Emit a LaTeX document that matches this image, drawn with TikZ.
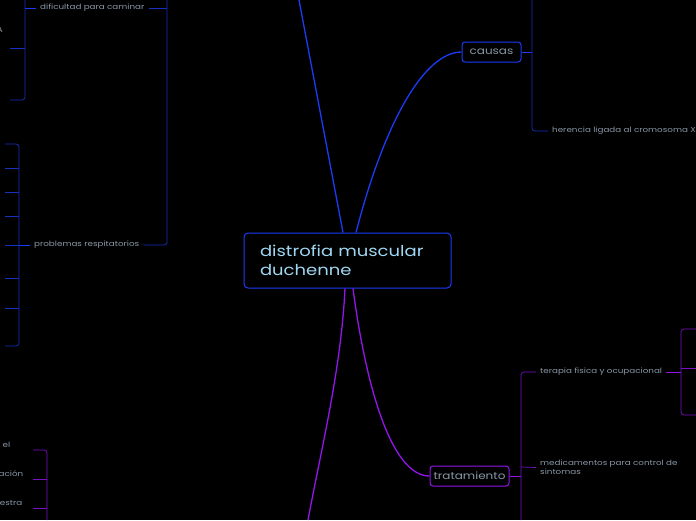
\documentclass[tikz,border=0pt]{standalone}
\usepackage{fontspec}
\setmainfont[FakeStretch=1.2]{Poppins}
\usetikzlibrary{calc}
\definecolor{blu}{HTML}{1A3CF5}
\definecolor{dblu}{HTML}{1530C0}
\definecolor{purp}{HTML}{9414EC}
\definecolor{dpurp}{HTML}{7A10C4}
\definecolor{txt}{HTML}{8A98A6}
\definecolor{ctxt}{HTML}{A0D8F2}

\begin{document}
\begin{tikzpicture}[x=1pt,y=-1pt,
  topic/.style={rounded corners=3pt,line width=1pt,inner sep=0pt,minimum height=20pt,text=txt,font=\fontsize{10}{12}\selectfont},
  leaf/.style={text=txt,font=\fontsize{7.3}{9}\selectfont,inner xsep=4pt,inner ysep=0pt,anchor=west,align=left},
  cut/.style={text=txt,font=\fontsize{7.3}{9}\selectfont,inner sep=0pt,anchor=east},
  main/.style={line width=1.3pt},
  stub/.style={line width=1pt},
  sub/.style={line width=0.7pt,rounded corners=3pt}]
\newcommand{\rc}{4pt}
\useasboundingbox (0,0) rectangle (696,520);
\fill[black] (0,0) rectangle (696,520);
\clip (0,0) rectangle (696,520);

\node[draw=blu,line width=1pt,rounded corners=\rc,minimum width=207pt,minimum height=55pt,
  text width=175pt,inner xsep=16pt,align=left,text=ctxt,font=\fontsize{15}{19}\selectfont]
  (dmd) at (347.5,260.5) {distrofia muscular\\duchenne};
\node[topic,draw=blu,minimum width=59pt] (causas) at (491.5,52) {causas};
\node[topic,draw=purp,minimum width=79pt] (trat) at (469.5,476) {tratamiento};

\coordinate (up) at (299,0);
\coordinate (dn) at (308,520);
\draw[main,blu] ($(dmd.north)+(-4.5,0)$) -- (up);
\draw[main,blu] ($(dmd.north)+(8.5,0)$) .. controls (385,120) and (425,52) .. (causas.west);
\draw[main,purp] ($(dmd.south)+(-2.5,0)$) .. controls (341,370) and (321,450) .. (dn);
\draw[main,purp] ($(dmd.south)+(5.5,0)$) .. controls (365,380) and (390,476) .. (trat.west);

\node[leaf] (her) at (548,131) {herencia ligada al cromosoma X};
\draw[stub,blu] (causas.east) -- (532,52);
\draw[sub,dblu] (532,0) |- (her.west);

\node[leaf] (dif) at (36,8) {dificultad para caminar};
\node[leaf] (pro) at (30,245) {problemas respitatorios};
\node[cut] (frag) at (3,30) {A};
\draw[sub,dblu] (167,0) |- (pro.east);
\draw[sub,dblu] (dif.east) -- (167,8);
\draw[stub,blu] (25,8) -- (dif.west);
\draw[sub,dblu] (25,0) |- (10,100);
\draw[sub,dblu] (10,48) -- (25,48);
\draw[stub,blu] (19,245) -- (pro.west);
\draw[sub,dblu] (5,144) -| (19,346) -- (5,346);
\foreach \y in {168,192,216,245,278,308}
  \draw[sub,dblu] (5,\y) -- (19,\y);

\node[leaf] (ter) at (536,372) {terapia fisica y ocupacional};
\node[leaf] (med) at (536,467.5) {medicamentos para control de\\sintomas};
\draw[stub,purp] (trat.east) -- (521,476);
\draw[sub,dpurp] (521,520) |- (ter.west);
\draw[sub,dpurp] (521,467) -- (med.west);
\draw[stub,purp] (ter.east) -- (681,372);
\draw[sub,dpurp] (696,329) -| (681,415) -- (696,415);
\draw[sub,dpurp] (681,368) -- (696,368);

\node[cut] (el) at (10.5,445) {el};
\node[cut] (acion) at (23.5,474) {ación};
\node[cut] (estra) at (22.5,503) {estra};
\draw[sub,dpurp] (33,450) -| (47,520);
\draw[sub,dpurp] (33,479) -- (47,479);
\draw[sub,dpurp] (33,508) -- (47,508);
\end{tikzpicture}
\end{document}
